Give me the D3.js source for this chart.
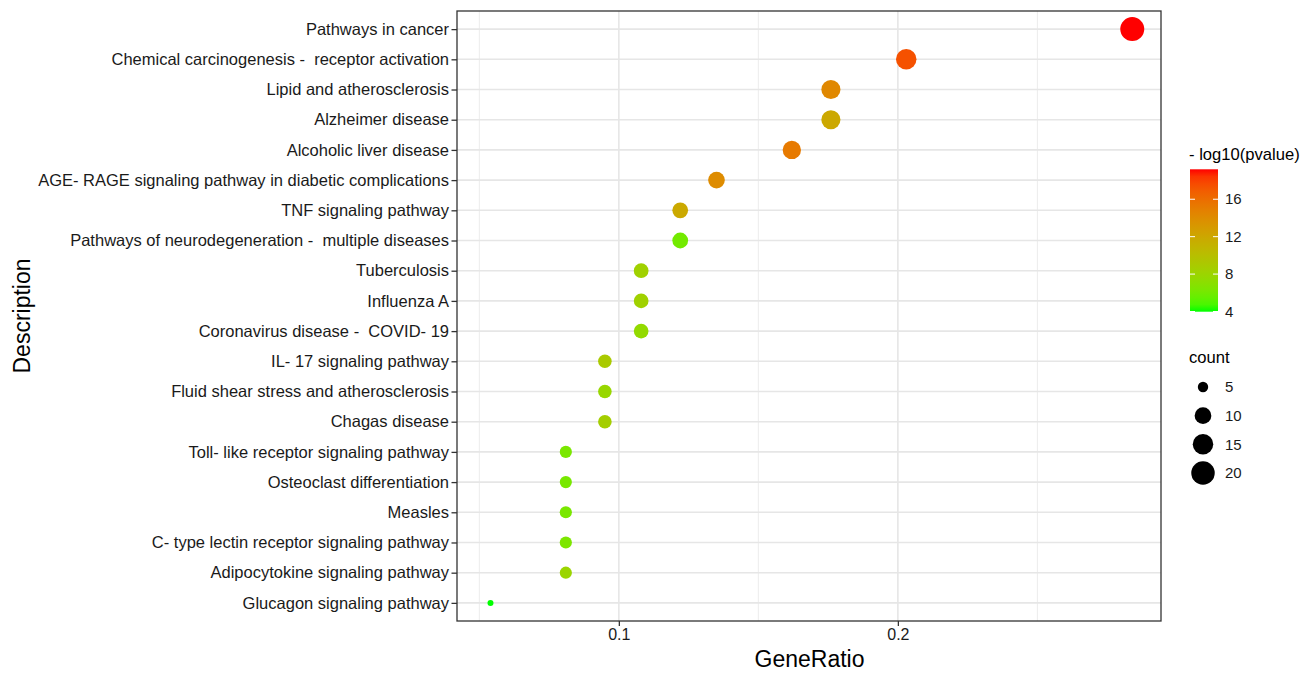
<!DOCTYPE html>
<html>
<head>
<meta charset="utf-8">
<script src="https://cdn.jsdelivr.net/npm/d3@7"></script>
<style>
  body { margin: 0; background: #fff; }
  svg { font-family: "Liberation Sans", Arial, sans-serif; }
</style>
</head>
<body>
<div id="dotPlot"></div>
<script>
// KEGG enrichment dot plot (ggplot style)

var pathways = [
  "Pathways in cancer",
  "Chemical carcinogenesis -  receptor activation",
  "Lipid and atherosclerosis",
  "Alzheimer disease",
  "Alcoholic liver disease",
  "AGE- RAGE signaling pathway in diabetic complications",
  "TNF signaling pathway",
  "Pathways of neurodegeneration -  multiple diseases",
  "Tuberculosis",
  "Influenza A",
  "Coronavirus disease -  COVID- 19",
  "IL- 17 signaling pathway",
  "Fluid shear stress and atherosclerosis",
  "Chagas disease",
  "Toll- like receptor signaling pathway",
  "Osteoclast differentiation",
  "Measles",
  "C- type lectin receptor signaling pathway",
  "Adipocytokine signaling pathway",
  "Glucagon signaling pathway"
];
var geneRatio = [0.284, 0.203, 0.176, 0.176, 0.162, 0.135, 0.122, 0.122, 0.108, 0.108,
                 0.108, 0.095, 0.095, 0.095, 0.081, 0.081, 0.081, 0.081, 0.081, 0.054];
var geneCount = [21, 15, 13, 13, 12, 10, 9, 9, 8, 8, 8, 7, 7, 7, 6, 6, 6, 6, 6, 4];
var logP = [19.2, 17.4, 14.3, 11.9, 15.2, 14.0, 11.8, 6.0, 8.3, 8.3,
            7.5, 9.0, 7.8, 8.6, 6.3, 6.2, 6.3, 6.4, 8.0, 3.98];

var xTicks = [0.1, 0.2];
var xMinor = [0.05, 0.15, 0.25];
var colorTicks = [4, 8, 12, 16];
var countTicks = [5, 10, 15, 20];

var width = 1312, height = 673;
var panel = {left: 457, right: 1161, top: 11, bottom: 621};

var svg = d3.select("#dotPlot")
  .append("svg")
    .attr("width", width)
    .attr("height", height);

var data = pathways.map(function(p, i) {
  return {name: p, ratio: geneRatio[i], count: geneCount[i], p: logP[i]};
});

// scales
var x = d3.scaleLinear()
  .domain([0.042, 0.2943])
  .range([panel.left, panel.right]);

var y = d3.scalePoint()
  .domain(pathways)
  .range([panel.top, panel.bottom])
  .padding(0.6);

var pExtent = d3.extent(logP);
var color = d3.scaleLinear()
  .domain(pExtent)
  .range(["#00ff00", "#ff0000"])
  .interpolate(d3.interpolateLab);

// ggplot area palette: radius grows with sqrt of rescaled count
var cExtent = d3.extent(geneCount);
var rLinear = d3.scaleLinear().domain([0, 1]).range([3, 12]);
var radius = function(c) {
  return rLinear(Math.sqrt((c - cExtent[0]) / (cExtent[1] - cExtent[0])));
};

// grid
var grid = svg.append("g");
grid.selectAll(".minor")
  .data(xMinor)
  .enter().append("line")
    .attr("x1", function(d) { return x(d); })
    .attr("x2", function(d) { return x(d); })
    .attr("y1", panel.top).attr("y2", panel.bottom)
    .style("stroke", "#ececec").style("stroke-width", 1);
grid.selectAll(".majorx")
  .data(xTicks)
  .enter().append("line")
    .attr("x1", function(d) { return x(d); })
    .attr("x2", function(d) { return x(d); })
    .attr("y1", panel.top).attr("y2", panel.bottom)
    .style("stroke", "#e6e6e6").style("stroke-width", 1.6);
grid.selectAll(".majory")
  .data(pathways)
  .enter().append("line")
    .attr("x1", panel.left).attr("x2", panel.right)
    .attr("y1", function(d) { return y(d); })
    .attr("y2", function(d) { return y(d); })
    .style("stroke", "#e6e6e6").style("stroke-width", 1.6);

// points
svg.append("g")
  .selectAll("circle")
  .data(data)
  .enter().append("circle")
    .attr("cx", function(d) { return x(d.ratio); })
    .attr("cy", function(d) { return y(d.name); })
    .attr("r", function(d) { return radius(d.count); })
    .style("fill", function(d) { return color(d.p); });

// panel border
svg.append("rect")
  .attr("x", panel.left).attr("y", panel.top)
  .attr("width", panel.right - panel.left)
  .attr("height", panel.bottom - panel.top)
  .style("fill", "none").style("stroke", "#333").style("stroke-width", 1.3);

// axes
var yAxis = svg.append("g")
  .attr("transform", "translate(" + panel.left + ",0)")
  .call(d3.axisLeft(y).tickSize(5.5).tickPadding(2.5));
yAxis.select(".domain").remove();
yAxis.selectAll("line").style("stroke", "#333").style("stroke-width", 1.3);
yAxis.selectAll("text")
  .style("font-size", "16.5px")
  .style("fill", "#1a1a1a")
  .style("white-space", "pre")
  .attr("font-family", null);

var xAxis = svg.append("g")
  .attr("transform", "translate(0," + panel.bottom + ")")
  .call(d3.axisBottom(x).tickValues(xTicks).tickFormat(d3.format(".1f")).tickSize(5).tickPadding(3));
xAxis.select(".domain").remove();
xAxis.selectAll("line").style("stroke", "#333").style("stroke-width", 1.3);
xAxis.selectAll("text")
  .style("font-size", "16px")
  .style("fill", "#1a1a1a")
  .attr("font-family", null);

// axis titles
svg.append("text")
  .attr("x", (panel.left + panel.right) / 2 + 0.5)
  .attr("y", 667)
  .attr("text-anchor", "middle")
  .style("font-size", "23px")
  .style("fill", "#000")
  .text("GeneRatio");

svg.append("text")
  .attr("transform", "translate(30," + ((panel.top + panel.bottom) / 2) + ") rotate(-90)")
  .attr("text-anchor", "middle")
  .style("font-size", "23px")
  .style("fill", "#000")
  .text("Description");

// colour legend
var legX = 1189;
var barW = 28;
var barY = d3.scaleLinear().domain(pExtent).range([311.7, 169.3]);

svg.append("text")
  .attr("x", legX).attr("y", 160)
  .style("font-size", "16.6px")
  .text("- log10(pvalue)");

var grad = svg.append("defs").append("linearGradient")
  .attr("id", "pgrad")
  .attr("x1", 0).attr("x2", 0).attr("y1", 1).attr("y2", 0);
d3.range(0, 1.0001, 0.05).forEach(function(t) {
  grad.append("stop")
    .attr("offset", t)
    .attr("stop-color", color(pExtent[0] + t * (pExtent[1] - pExtent[0])));
});

svg.append("rect")
  .attr("x", legX + 1).attr("y", barY(pExtent[1]))
  .attr("width", barW)
  .attr("height", barY(pExtent[0]) - barY(pExtent[1]))
  .style("fill", "url(#pgrad)");

var cTick = svg.append("g").selectAll("g")
  .data(colorTicks)
  .enter().append("g")
    .attr("transform", function(d) { return "translate(0," + barY(d) + ")"; });
cTick.append("line")
  .attr("x1", legX + 1).attr("x2", legX + 6)
  .style("stroke", "#fff").style("stroke-width", 1);
cTick.append("line")
  .attr("x1", legX + barW - 4).attr("x2", legX + barW + 1)
  .style("stroke", "#fff").style("stroke-width", 1);
cTick.append("text")
  .attr("x", legX + 36).attr("dy", "0.35em")
  .style("font-size", "15px")
  .style("fill", "#1a1a1a")
  .text(function(d) { return d; });

// size legend
svg.append("text")
  .attr("x", legX).attr("y", 363)
  .style("font-size", "16.6px")
  .text("count");

var sizeY = d3.scalePoint().domain(countTicks).range([387, 473]);
var sKey = svg.append("g").selectAll("g")
  .data(countTicks)
  .enter().append("g")
    .attr("transform", function(d) { return "translate(0," + sizeY(d) + ")"; });
sKey.append("circle")
  .attr("cx", legX + 14)
  .attr("r", function(d) { return radius(d); })
  .style("fill", "#000");
sKey.append("text")
  .attr("x", legX + 36).attr("dy", "0.35em")
  .style("font-size", "15px")
  .style("fill", "#1a1a1a")
  .text(function(d) { return d; });
</script>
</body>
</html>
